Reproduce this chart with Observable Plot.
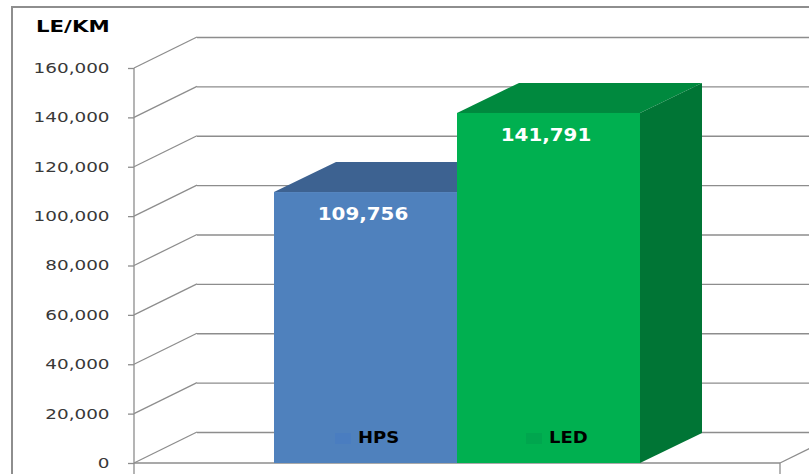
<!DOCTYPE html>
<html>
<head>
<meta charset="utf-8">
<script src="https://cdn.jsdelivr.net/npm/d3@7"></script>
<script src="https://cdn.jsdelivr.net/npm/@observablehq/plot@0.6"></script>
<style>
  body { margin: 0; background: #fff; }
  #wrap { position: relative; width: 809px; height: 474px; overflow: hidden; background: #fff; }
  #wrap svg { position: absolute; left: 0; top: 0; }
  #frame { position: absolute; left: 11px; top: 6px; width: 1000px; height: 1000px; border: 2px solid #8e8e8e; box-sizing: border-box; }
  #title { position: absolute; left: 36px; top: 20px; font: bold 15px/15px "DejaVu Sans"; color: #000; white-space: nowrap; transform: scaleX(1.42); transform-origin: 0 0; }
  .leg { position: absolute; top: 431px; font: bold 15px/15px "DejaVu Sans"; color: #000; white-space: nowrap; transform: scaleX(1.2); transform-origin: 0 0; }
  .sw { position: absolute; top: 433px; width: 16px; height: 11px; }
  g[aria-label^="y-axis"] text { font-family: "DejaVu Sans"; font-size: 14px; fill: #383838; }
  g[aria-label^="y-axis"] { color: #8d8d8d; }
  g[aria-label^="y-axis"] line, g[aria-label^="y-axis"] path { stroke: #8d8d8d; stroke-width: 1.3; }
</style>
</head>
<body>
<div id="wrap">
  <div id="frame"></div>
</div>
<script>
// ---- data ----
const categories = ["HPS", "LED"];
const values = [109756, 141791];
const yTicks = [0, 20000, 40000, 60000, 80000, 100000, 120000, 140000, 160000];
const yTitle = "LE/KM";

// ---- styles ----
const faceFront = ["#4f81bd", "#00b050"];
const faceTop = ["#3d6291", "#00893e"];
const faceSide = ["#375a87", "#007535"];
const swatch = ["#4a7dc0", "#00a64e"];
const gridColor = "#8d8d8d";
const WX = 63, WY = -31;   // wall depth offset (px)
const BX = 62, BY = -30;   // bar depth offset (px)

const data = categories.map((c, i) => ({category: c, value: values[i]}));

function walls(index, scales, channels, dims) {
  const y = scales.y;
  const x0 = dims.marginLeft, x1 = dims.width - dims.marginRight, y0 = y(0);
  const g = d3.create("svg:g").attr("stroke", gridColor).attr("stroke-width", 1.3).attr("fill", "none");
  for (const t of yTicks) {
    g.append("line").attr("x1", x0).attr("y1", y(t)).attr("x2", x0 + WX).attr("y2", y(t) + WY);
  }
  g.append("line").attr("x1", x0).attr("y1", y0).attr("x2", x0).attr("y2", y(yTicks[yTicks.length - 1]));
  g.append("line").attr("x1", x0).attr("y1", y0).attr("x2", x1).attr("y2", y0);
  g.append("line").attr("x1", x1).attr("y1", y0).attr("x2", x1 + WX).attr("y2", y0 + WY);
  for (const bx of [x0, x1]) {
    g.append("line").attr("x1", bx).attr("y1", y0).attr("x2", bx).attr("y2", y0 + 12);
  }
  return g.node();
}

function bars3d(index, scales) {
  const x = scales.x, y = scales.y;
  const bw = typeof x.bandwidth === "function" ? x.bandwidth() : x.bandwidth;
  const g = d3.create("svg:g");
  categories.forEach((c, i) => {
    const xl = x(c), xr = xl + bw, yt = y(values[i]), yb = y(0);
    g.append("path")
      .attr("d", `M${xl},${yt}L${xl + BX},${yt + BY}L${xr + BX},${yt + BY}L${xr},${yt}Z`)
      .attr("fill", faceTop[i]);
    g.append("path")
      .attr("d", `M${xr},${yt}L${xr + BX},${yt + BY}L${xr + BX},${yb + BY}L${xr},${yb}Z`)
      .attr("fill", faceSide[i]);
  });
  return g.node();
}

const plot = Plot.plot({
  width: 809,
  height: 474,
  marginLeft: 134,
  marginRight: 29,
  marginTop: 68,
  marginBottom: 11,
  style: {fontFamily: "DejaVu Sans", background: "transparent", overflow: "visible"},
  x: {type: "band", domain: categories, paddingInner: 0, paddingOuter: 0.765, align: 0.5, axis: null},
  y: {domain: [0, 160000], ticks: yTicks, tickFormat: d3.format(","), tickSize: 6, tickPadding: 19, label: null},
  color: {domain: categories, range: faceFront},
  marks: [
    Plot.ruleY(yTicks, {dx: WX, dy: WY, stroke: gridColor, strokeWidth: 1.3}),
    walls,
    bars3d,
    Plot.barY(data, {x: "category", y: "value", fill: "category"}),
    Plot.text(data, {
      x: "category", y: "value", text: d => d3.format(",")(d.value),
      dy: 22, dx: -3, fill: "white", fontWeight: "bold", fontSize: 17
    })
  ]
});

const wrap = document.getElementById("wrap");
wrap.appendChild(plot);

// widen the glyphs like the original's stretched font
function stretch(selection, k) {
  selection.each(function() {
    const w = this.getComputedTextLength();
    if (w > 0) {
      this.setAttribute("textLength", (w * k).toFixed(1));
      this.setAttribute("lengthAdjust", "spacingAndGlyphs");
    }
  });
}
stretch(d3.select(plot).selectAll('g[aria-label^="y-axis"] text'), 1.31);
stretch(d3.select(plot).selectAll('g[aria-label="text"] text'), 1.17);

const title = document.createElement("div");
title.id = "title";
title.textContent = yTitle;
wrap.appendChild(title);

const legLeft = [335, 526];
categories.forEach((c, i) => {
  const sw = document.createElement("div");
  sw.className = "sw";
  sw.style.left = legLeft[i] + "px";
  sw.style.background = swatch[i];
  wrap.appendChild(sw);
  const t = document.createElement("div");
  t.className = "leg";
  t.style.left = (legLeft[i] + 23) + "px";
  t.textContent = c;
  wrap.appendChild(t);
});
</script>
</body>
</html>
